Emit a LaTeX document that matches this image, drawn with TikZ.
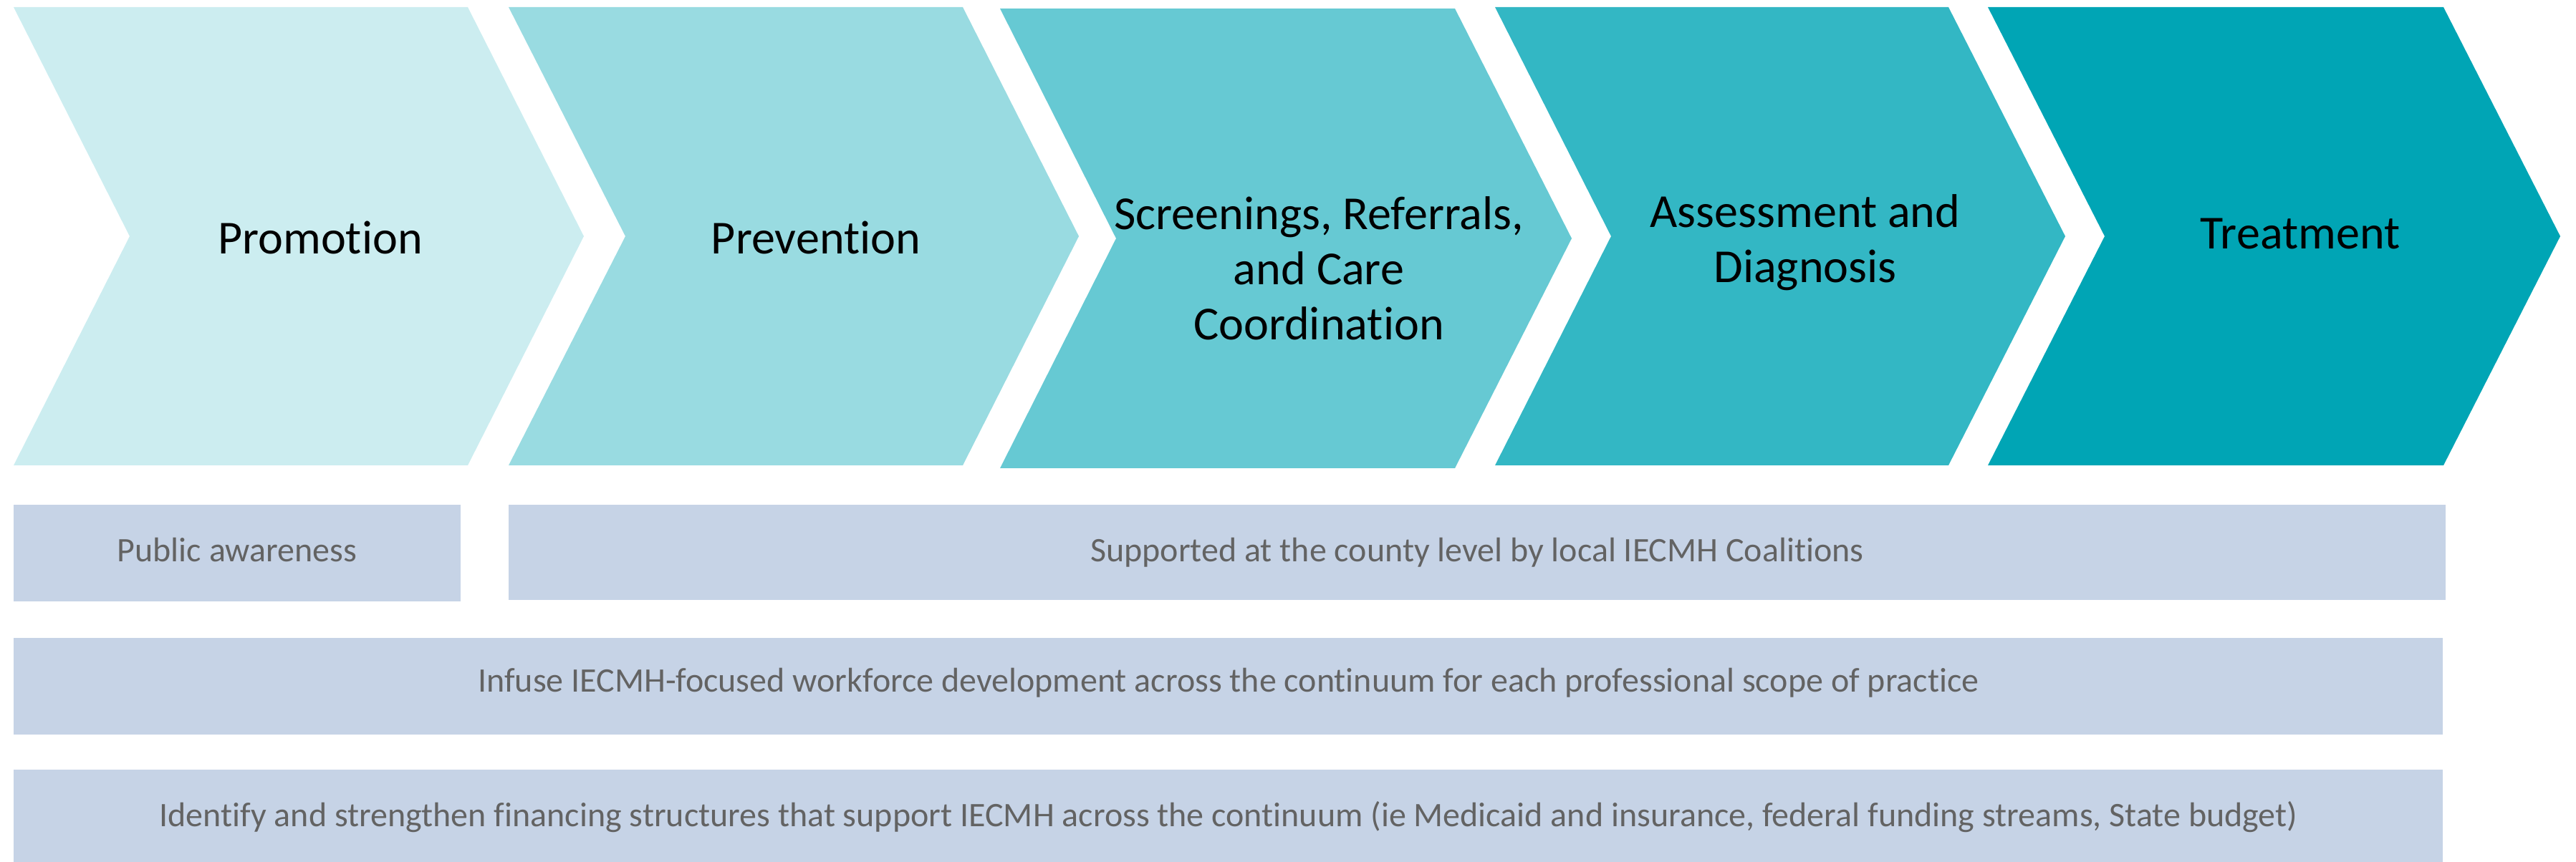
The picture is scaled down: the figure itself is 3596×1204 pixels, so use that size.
\documentclass[tikz,border=0pt]{standalone}
\usepackage{fontspec}
\setmainfont{Carlito}[Ligatures=NoCommon]

\definecolor{stageteal}{RGB}{0,165,181}
\definecolor{bandfill}{RGB}{198,211,230}
\definecolor{bandgray}{RGB}{99,99,99}

\tikzset{
	stagetext/.style={font=\fontsize{18.8}{22}\selectfont, align=center, inner sep=0pt, anchor=base},
	bandtext/.style={font=\fontsize{13.65}{16}\selectfont, text=bandgray, inner sep=0pt, anchor=base},
}

\begin{document}
\begin{tikzpicture}[x=0.01cm, y=-0.01cm]
	\useasboundingbox (0,0) rectangle (3596,1204);
	
	% the five stages
	\fill[stageteal!20] (19,10) -- (653,10) -- (815,330) -- (653,650) -- (19,650) -- (181,330) -- cycle;
	\fill[stageteal!40] (710,10) -- (1344,10) -- (1506,330) -- (1344,650) -- (710,650) -- (873,330) -- cycle;
	\fill[stageteal!60] (1396,12) -- (2031,12) -- (2194,333) -- (2031,654) -- (1396,654) -- (1558,333) -- cycle;
	\fill[stageteal!80] (2087,10) -- (2720,10) -- (2883,330) -- (2720,650) -- (2087,650) -- (2249,330) -- cycle;
	\fill[stageteal] (2775,10) -- (3411,10) -- (3574,330) -- (3411,650) -- (2775,650) -- (2938,330) -- cycle;
	
	% base of a stacked label sits on its last line
	\node[stagetext] (promo) at (447, 355) {Promotion};
	\node[stagetext] (prev) at (1139, 355) {Prevention};
	\node[stagetext] (screen) at (1841, 475) {Screenings, Referrals,\\and Care\\Coordination};
	\node[stagetext] (assess) at (2520, 395) {Assessment and\\Diagnosis};
	\node[stagetext] (treat) at (3211, 348) {Treatment};
	
	% bands below
	\fill[bandfill] (19,705) rectangle (643,840);
	\fill[bandfill] (710,705) rectangle (3414,838);
	\fill[bandfill] (19,891) rectangle (3410,1026);
	\fill[bandfill] (19,1075) rectangle (3410,1204);
	
	\node[bandtext] (aware) at (331, 785) {Public awareness};
	\node[bandtext] (county) at (2062, 785) {Supported at the county level by local IECMH Coalitions};
	\node[bandtext] (workforce) at (1715, 967) {Infuse IECMH-focused workforce development across the continuum for each professional scope of practice};
	\node[bandtext] (finance) at (1715, 1155) {Identify and strengthen financing structures that support IECMH across the continuum (ie Medicaid and insurance, federal funding streams, State budget)};

\end{tikzpicture}
\end{document}
